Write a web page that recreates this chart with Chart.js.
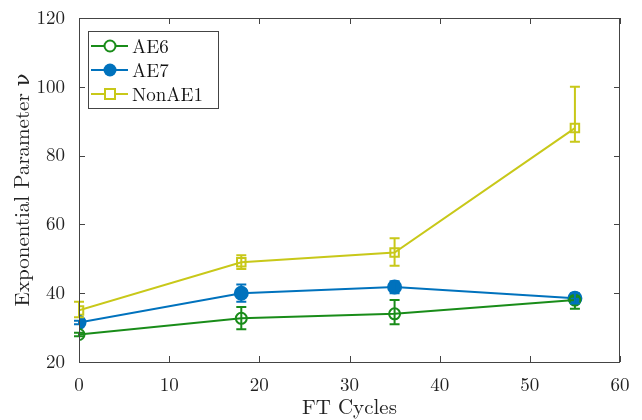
<!DOCTYPE html>
<html>
<head>
<meta charset="utf-8">
<script src="https://cdn.jsdelivr.net/npm/chart.js@4"></script>
<style>
  html, body { margin: 0; padding: 0; background: #fff; }
  #wrap { width: 642px; height: 420px; }
</style>
</head>
<body>
<div id="wrap"><canvas id="chart" width="642" height="420"></canvas></div>
<script>
const cycles = [0, 18, 35, 55];

const ae6 = [28, 32.7, 34, 38];
const ae6Lo = [27.5, 29.5, 31, 35.5];
const ae6Hi = [28.5, 36, 38, 39];

const ae7 = [31.5, 40, 41.8, 38.5];
const ae7Lo = [31, 37.5, 40, 37];
const ae7Hi = [32, 42.5, 43.5, 40];

const nonAe1 = [35, 49, 51.8, 88];
const nonAe1Lo = [33, 47, 48, 84];
const nonAe1Hi = [37.5, 51, 56, 100];

const seriesNames = ["AE6", "AE7", "NonAE1"];
const xTicks = [0, 10, 20, 30, 40, 50, 60];
const yTicks = [20, 40, 60, 80, 100, 120];

const GREEN = "rgb(25,140,25)";
const BLUE = "rgb(0,114,189)";
const YELLOW = "rgb(200,200,25)";
const FONT = "'Latin Modern Roman', 'DejaVu Serif', serif";

function toPoints(vals) {
  return vals.map((v, i) => ({ x: cycles[i], y: v }));
}

// error bars + boxed axes with inward ticks + legend, drawn with the scales
const extras = {
  id: "extras",
  afterDatasetsDraw(chart) {
    const ctx = chart.ctx;
    const xs = chart.scales.x;
    const ys = chart.scales.y;
    const bars = [[ae6Lo, ae6Hi], [ae7Lo, ae7Hi], [nonAe1Lo, nonAe1Hi]];

    chart.data.datasets.forEach((ds, di) => {
      ctx.save();
      ctx.strokeStyle = ds.borderColor;
      ctx.lineWidth = 2;
      cycles.forEach((c, i) => {
        const px = xs.getPixelForValue(c);
        const lo = ys.getPixelForValue(bars[di][0][i]);
        const hi = ys.getPixelForValue(bars[di][1][i]);
        ctx.beginPath();
        ctx.moveTo(px, lo); ctx.lineTo(px, hi);
        ctx.moveTo(px - 5, lo); ctx.lineTo(px + 5, lo);
        ctx.moveTo(px - 5, hi); ctx.lineTo(px + 5, hi);
        ctx.stroke();
      });
      ctx.restore();
    });

    const a = chart.chartArea;
    ctx.save();
    ctx.strokeStyle = "#444";
    ctx.lineWidth = 1;
    ctx.strokeRect(a.left + 0.5, a.top + 0.5, a.right - a.left - 1, a.bottom - a.top);
    ctx.beginPath();
    xTicks.forEach(t => {
      const px = Math.round(xs.getPixelForValue(t)) + 0.5;
      ctx.moveTo(px, a.bottom); ctx.lineTo(px, a.bottom - 6);
      ctx.moveTo(px, a.top); ctx.lineTo(px, a.top + 6);
    });
    yTicks.forEach(t => {
      const py = Math.round(ys.getPixelForValue(t)) + 0.5;
      ctx.moveTo(a.left, py); ctx.lineTo(a.left + 6, py);
      ctx.moveTo(a.right, py); ctx.lineTo(a.right - 6, py);
    });
    ctx.stroke();

    // legend
    const lx = 88, ly = 31, lw = 130, lh = 77;
    ctx.fillStyle = "#fff";
    ctx.fillRect(lx, ly, lw, lh);
    ctx.strokeStyle = "#444";
    ctx.strokeRect(lx + 0.5, ly + 0.5, lw, lh);
    ctx.font = "19px " + FONT;
    ctx.textBaseline = "middle";
    chart.data.datasets.forEach((ds, di) => {
      const y = ly + 15 + di * 24;
      ctx.strokeStyle = ds.borderColor;
      ctx.lineWidth = 2;
      ctx.beginPath();
      ctx.moveTo(lx + 3, y); ctx.lineTo(lx + 40, y);
      ctx.stroke();
      const cx = lx + 22;
      ctx.beginPath();
      if (di === 0) {
        ctx.arc(cx, y, 5.5, 0, Math.PI * 2);
        ctx.fillStyle = "#fff"; ctx.fill(); ctx.stroke();
      } else if (di === 1) {
        ctx.arc(cx, y, 6.5, 0, Math.PI * 2);
        ctx.fillStyle = ds.borderColor; ctx.fill();
      } else {
        ctx.rect(cx - 5, y - 5, 10, 10);
        ctx.fillStyle = "#fff"; ctx.fill(); ctx.stroke();
      }
      ctx.fillStyle = "#111";
      ctx.fillText(seriesNames[di], lx + 44, y + 1);
    });
    ctx.restore();
  }
};

function makeSet(name, vals, color, style, filled, radius) {
  return {
    label: name,
    data: toPoints(vals),
    borderColor: color,
    backgroundColor: filled ? color : "rgba(255,255,255,0)",
    borderWidth: 2,
    pointStyle: style,
    pointRadius: radius,
    pointBorderWidth: 2,
    pointBackgroundColor: filled ? color : "rgba(255,255,255,0)",
    tension: 0,
    fill: false
  };
}

new Chart(document.getElementById("chart"), {
  type: "line",
  data: {
    datasets: [
      makeSet(seriesNames[0], ae6, GREEN, "circle", false, 5.5),
      makeSet(seriesNames[1], ae7, BLUE, "circle", true, 6.5),
      makeSet(seriesNames[2], nonAe1, YELLOW, "rect", false, 6)
    ]
  },
  options: {
    responsive: false,
    animation: false,
    layout: { padding: { left: 0, top: 18, right: 22, bottom: 0 } },
    plugins: {
      legend: { display: false },
      tooltip: { enabled: false }
    },
    scales: {
      x: {
        type: "linear",
        min: 0,
        max: 60,
        afterBuildTicks: s => { s.ticks = xTicks.map(v => ({ value: v })); },
        grid: { display: false },
        border: { display: false },
        ticks: { color: "#222", font: { family: FONT, size: 19 }, padding: 4 },
        title: { display: true, text: "FT Cycles", color: "#222", font: { family: FONT, size: 21 }, padding: { top: 0, bottom: 0 } },
        afterFit: s => { s.height = 58; }
      },
      y: {
        min: 20,
        max: 120,
        afterBuildTicks: s => { s.ticks = yTicks.map(v => ({ value: v })); },
        grid: { display: false },
        border: { display: false },
        ticks: { color: "#222", font: { family: FONT, size: 19 }, padding: 6 },
        title: { display: true, text: "Exponential Parameter \u03bd", color: "#222", font: { family: FONT, size: 21 }, padding: { top: 10, bottom: 4 } },
        afterFit: s => { s.width = 79; }
      }
    }
  },
  plugins: [extras]
});
</script>
</body>
</html>
